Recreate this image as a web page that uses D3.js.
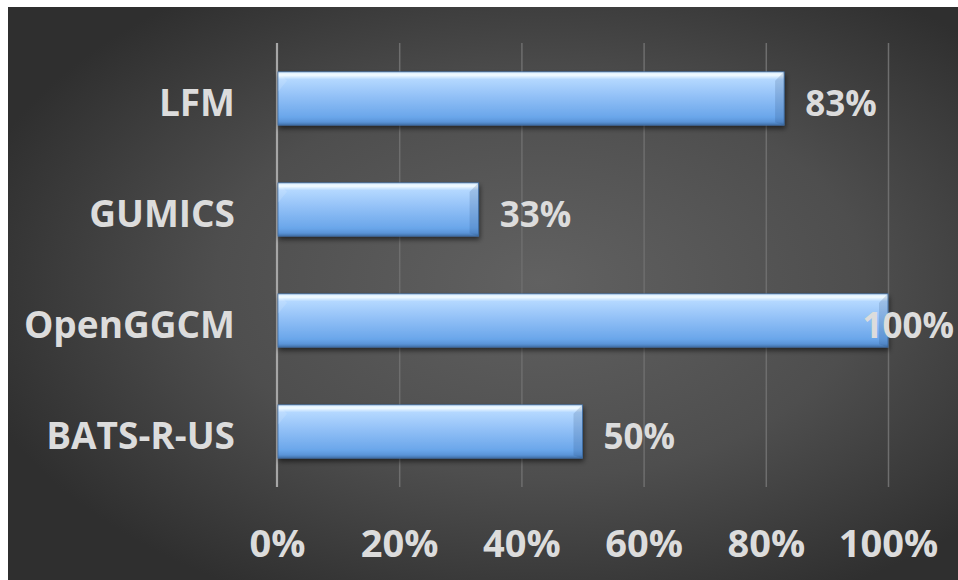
<!DOCTYPE html>
<html>
<head>
<meta charset="utf-8">
<script src="https://cdn.jsdelivr.net/npm/d3@7"></script>
<style>
  html, body { margin: 0; padding: 0; background: #ffffff; }
  svg { display: block; }
</style>
</head>
<body>
<svg id="chart" width="958" height="580"></svg>
<script>
// Model names, top to bottom
const models = ["LFM", "GUMICS", "OpenGGCM", "BATS-R-US"];
// Share of events per model (fraction)
const shares = [0.83, 0.33, 1.00, 0.50];
// Axis ticks
const tickValues = [0, 0.2, 0.4, 0.6, 0.8, 1.0];
const tickLabels = ["0%", "20%", "40%", "60%", "80%", "100%"];

const W = 958, H = 580;
const panel = { x: 8, y: 7, w: 950, h: 573 };
const plot = { left: 277, right: 888, top: 43, bottom: 487 };
const textColor = "#dcdcdc";
const font = "'Open Sans', 'DejaVu Sans', sans-serif";

const svg = d3.select("#chart");
const defs = svg.append("defs");

// Dark radial panel fill
const bg = defs.append("radialGradient").attr("id", "panelFill")
  .attr("cx", "56%").attr("cy", "48%").attr("r", "62%");
bg.append("stop").attr("offset", "0%").attr("stop-color", "#616161");
bg.append("stop").attr("offset", "55%").attr("stop-color", "#4e4e4e");
bg.append("stop").attr("offset", "100%").attr("stop-color", "#2f2f2f");

// Glossy blue bar fill
const bar = defs.append("linearGradient").attr("id", "barFill")
  .attr("x1", 0).attr("y1", 0).attr("x2", 0).attr("y2", 1);
[["0%", "#d6ecff"], ["6%", "#f2fbff"], ["14%", "#b4d8ff"], ["45%", "#93c1f7"],
 ["85%", "#6aa6ea"], ["94%", "#5a94d8"], ["100%", "#4271a8"]]
  .forEach(([o, c]) => bar.append("stop").attr("offset", o).attr("stop-color", c));

const shadow = defs.append("filter").attr("id", "barShadow")
  .attr("x", "-5%").attr("y", "-20%").attr("width", "110%").attr("height", "150%");
shadow.append("feDropShadow").attr("dx", 1).attr("dy", 3).attr("stdDeviation", 2.5)
  .attr("flood-color", "#000").attr("flood-opacity", 0.55);

svg.append("rect")
  .attr("x", panel.x).attr("y", panel.y).attr("width", panel.w).attr("height", panel.h)
  .attr("fill", "url(#panelFill)");

const x = d3.scaleLinear().domain([0, 1]).range([plot.left, plot.right]);
const y = d3.scaleBand().domain(models).range([plot.top, plot.bottom])
  .paddingInner(0.52).paddingOuter(0.26);

// Vertical gridlines
const grid = svg.append("g")
  .attr("transform", `translate(0,${plot.bottom})`)
  .call(d3.axisBottom(x).tickValues(tickValues.slice(1))
    .tickSize(-(plot.bottom - plot.top)).tickFormat(""));
grid.select(".domain").remove();
grid.selectAll(".tick line").attr("stroke", "#6e6e6e").attr("stroke-width", 1.5);

// Category axis line at 0%
svg.append("line")
  .attr("x1", x(0)).attr("x2", x(0))
  .attr("y1", plot.top).attr("y2", plot.bottom)
  .attr("stroke", "#a6a6a6").attr("stroke-width", 2.2);

// Bars
const bars = svg.append("g").selectAll("g.bar")
  .data(models.map((m, i) => ({ model: m, value: shares[i] })))
  .join("g").attr("class", "bar");

bars.append("rect")
  .attr("x", x(0) + 1)
  .attr("y", d => y(d.model))
  .attr("width", d => x(d.value) - x(0) - 1)
  .attr("height", y.bandwidth())
  .attr("fill", "url(#barFill)")
  .attr("stroke", "#3f6ea6").attr("stroke-width", 0.8)
  .attr("filter", "url(#barShadow)");

// Bevel facets: light corner at the start, shaded corner at the end
const bevel = 9;
bars.append("path")
  .attr("d", d => {
    const x0 = x(0) + 1, y0 = y(d.model);
    return `M${x0},${y0} L${x0 + bevel},${y0 + bevel} L${x0},${y0 + bevel * 2.2} Z`;
  })
  .attr("fill", "#ffffff").attr("opacity", 0.12);
bars.append("path")
  .attr("d", d => {
    const x1 = x(d.value), y0 = y(d.model), h = y.bandwidth();
    return `M${x1},${y0} L${x1 - bevel},${y0 + bevel} L${x1 - bevel},${y0 + h - 3} L${x1},${y0 + h} Z`;
  })
  .attr("fill", "#1d3f6a").attr("opacity", 0.16);

// Value labels, kept inside the panel
const maxRight = panel.x + panel.w - 4;
svg.append("g").selectAll("text")
  .data(models.map((m, i) => ({ model: m, value: shares[i] })))
  .join("text")
  .attr("font-family", font).attr("font-weight", 700).attr("font-size", 35)
  .attr("fill", textColor)
  .attr("dominant-baseline", "central")
  .attr("y", d => y(d.model) + y.bandwidth() / 2 + 4)
  .text(d => Math.round(d.value * 100) + "%")
  .attr("x", function (d) {
    const w = this.getComputedTextLength();
    return Math.min(x(d.value) + 21, maxRight - w);
  });

// Category labels
const yAxis = svg.append("g")
  .attr("transform", `translate(${x(0) - 42},0)`)
  .call(d3.axisLeft(y).tickSize(0).tickPadding(0));
yAxis.select(".domain").remove();
yAxis.selectAll(".tick text")
  .attr("font-family", font).attr("font-weight", 700).attr("font-size", 37)
  .attr("fill", textColor).attr("dy", "0.36em")
  .attr("transform", "translate(0,4)");

// Percent axis labels
const xAxis = svg.append("g")
  .attr("transform", `translate(0,${plot.bottom})`)
  .call(d3.axisBottom(x).tickValues(tickValues)
    .tickFormat((d, i) => tickLabels[i]).tickSize(0).tickPadding(0));
xAxis.select(".domain").remove();
xAxis.selectAll(".tick text")
  .attr("font-family", font).attr("font-weight", 700).attr("font-size", 38)
  .attr("fill", textColor)
  .attr("dy", null).attr("y", 70);
</script>
</body>
</html>
